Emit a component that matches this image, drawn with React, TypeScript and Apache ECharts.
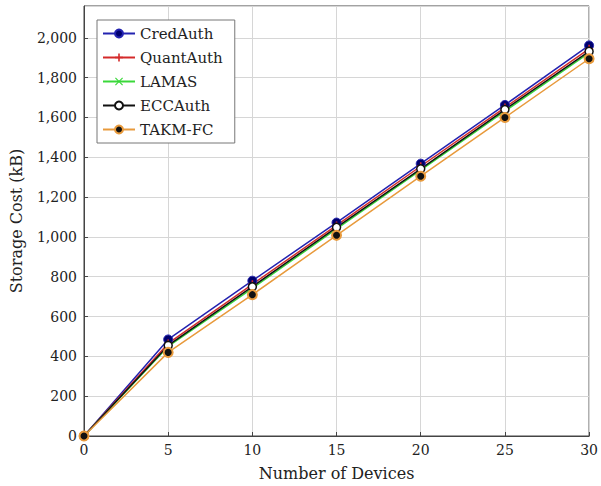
import React, { useEffect, useRef } from "react";
import * as echarts from "echarts";

const devices = [0, 5, 10, 15, 20, 25, 30];
const credAuth = [0, 485, 780, 1072, 1368, 1663, 1962];
const quantAuth = [0, 465, 762, 1058, 1355, 1650, 1945];
const lamas = [0, 450, 742, 1040, 1335, 1632, 1925];
const eccAuth = [0, 455, 750, 1048, 1342, 1640, 1932];
const takmFc = [0, 420, 710, 1008, 1305, 1600, 1895];

const FONT = "DejaVu Serif";
const PLUS = "path://M4,0 L6,0 L6,4 L10,4 L10,6 L6,6 L6,10 L4,10 L4,6 L0,6 L0,4 L4,4 Z";
const CROSS = "path://M1,0 L5,4 L9,0 L10,1 L6,5 L10,9 L9,10 L5,6 L1,10 L0,9 L4,5 L0,1 Z";

const pairs = (ys: number[]) => devices.map((x, i) => [x, ys[i]]);

export default function App() {
  const ref = useRef<HTMLDivElement>(null);
  useEffect(() => {
    const chart = echarts.init(ref.current!, null, { renderer: "svg" });
    const mk = (name: string, ys: number[], color: string, symbol: string, size: number, itemStyle: any) => ({
      name,
      type: "line",
      data: pairs(ys),
      symbol,
      symbolSize: size,
      showSymbol: true,
      lineStyle: { color, width: 1.5 },
      itemStyle,
      z: 2,
    });
    chart.setOption({
      animation: false,
      textStyle: { fontFamily: FONT },
      grid: {
        left: 82,
        right: 5,
        top: 6,
        bottom: 48,
        show: true,
        borderColor: "#444",
        borderWidth: 1,
        backgroundColor: "#fff",
      },
      legend: {
        orient: "vertical",
        left: 97,
        top: 20,
        itemWidth: 32,
        itemHeight: 10,
        itemGap: 9,
        padding: [6, 12, 6, 5],
        backgroundColor: "#fff",
        borderColor: "#777",
        borderWidth: 1,
        borderRadius: 0,
        textStyle: { fontFamily: FONT, fontSize: 15, color: "#222" },
        data: ["CredAuth", "QuantAuth", "LAMAS", "ECCAuth", "TAKM-FC"],
      },
      xAxis: {
        type: "value",
        min: 0,
        max: 30,
        interval: 5,
        name: "Number of Devices",
        nameLocation: "middle",
        nameGap: 29,
        nameTextStyle: { fontFamily: FONT, fontSize: 16, color: "#222" },
        axisLine: { show: true, lineStyle: { color: "#444" } },
        axisTick: { show: true, inside: true, length: 4, lineStyle: { color: "#444" } },
        axisLabel: { fontFamily: FONT, fontSize: 14, color: "#222", margin: 7 },
        splitLine: { show: true, lineStyle: { color: "#d6d6d6", width: 1 } },
      },
      yAxis: {
        type: "value",
        min: 0,
        max: 2160,
        interval: 200,
        name: "Storage Cost (kB)",
        nameLocation: "middle",
        nameGap: 60,
        nameTextStyle: { fontFamily: FONT, fontSize: 16, color: "#222" },
        axisLine: { show: true, lineStyle: { color: "#444" } },
        axisTick: { show: true, inside: true, length: 4, lineStyle: { color: "#444" } },
        axisLabel: {
          fontFamily: FONT,
          fontSize: 14,
          color: "#222",
          margin: 7,
          showMaxLabel: false,
          formatter: (v: number) => v.toLocaleString("en-US"),
        },
        splitLine: { show: true, lineStyle: { color: "#d6d6d6", width: 1 } },
      },
      series: [
        mk("CredAuth", credAuth, "#2323b0", "circle", 9, { color: "#00006e", borderColor: "#2323b0", borderWidth: 1 }),
        mk("QuantAuth", quantAuth, "#d42a2a", PLUS, 8, { color: "#d42a2a", borderWidth: 0 }),
        mk("LAMAS", lamas, "#3ad83a", CROSS, 7, { color: "#3ad83a", borderWidth: 0 }),
        mk("ECCAuth", eccAuth, "#111", "circle", 8, { color: "#fff", borderColor: "#111", borderWidth: 1.5 }),
        mk("TAKM-FC", takmFc, "#e89a3c", "circle", 9, { color: "#111", borderColor: "#e89a3c", borderWidth: 2 }),
      ],
    });
    return () => chart.dispose();
  }, []);
  return <div ref={ref} style={{ width: 601, height: 486, position: "absolute", left: 0, top: 0 }} />;
}
